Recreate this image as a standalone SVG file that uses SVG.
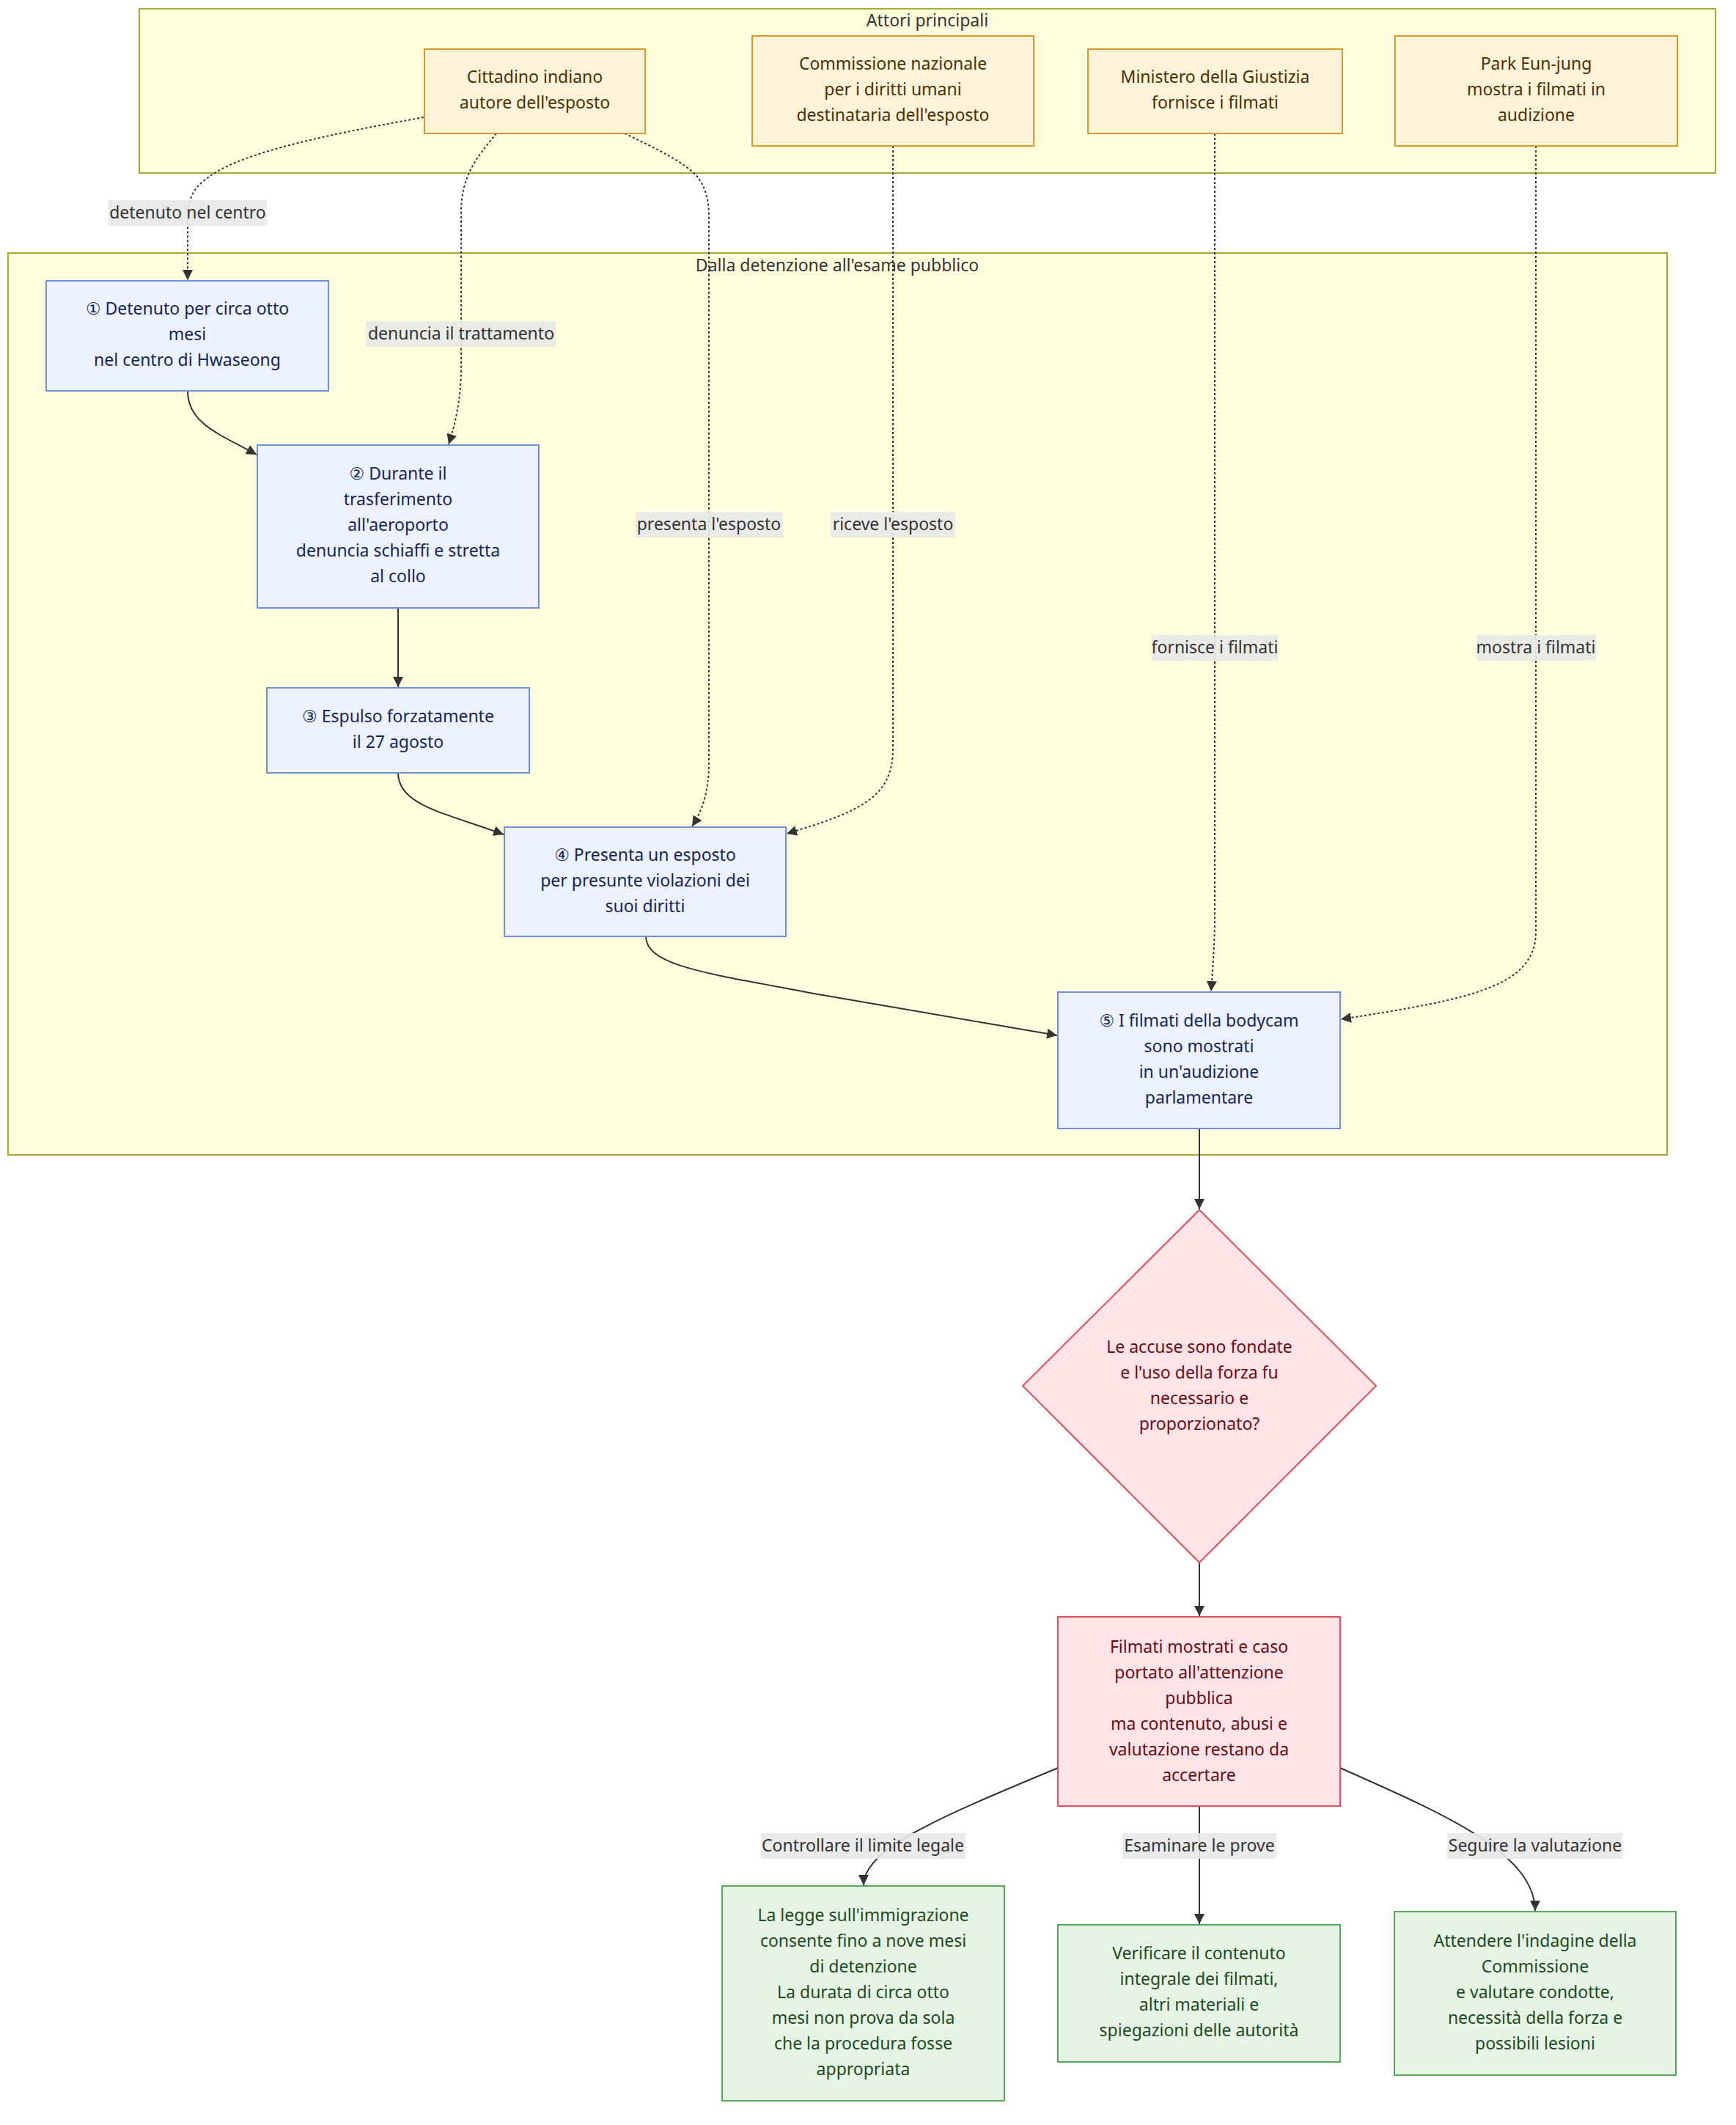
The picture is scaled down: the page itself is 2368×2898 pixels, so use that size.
<svg xmlns="http://www.w3.org/2000/svg" width="2368" height="2898" viewBox="0 0 2368 2898">
<style>
text{font-family:"Noto Sans","Open Sans","DejaVu Sans",sans-serif;font-size:23px;text-anchor:middle;dominant-baseline:central}
.cl{fill:#ffffde;stroke:#aaaa33;stroke-width:2}
.clt{fill:#333}
.act{fill:#fff3d9;stroke:#d99a2b;stroke-width:2}
.actt{fill:#4a3000}
.stp{fill:#ecf2ff;stroke:#6d8fdd;stroke-width:2}
.stpt{fill:#16245e}
.red{fill:#ffe3e6;stroke:#e0505e;stroke-width:2}
.redt{fill:#6e0a12}
.grn{fill:#e6f4e6;stroke:#5aa85a;stroke-width:2}
.grnt{fill:#1d4a1d}
.e{fill:none;stroke:#333;stroke-width:2;marker-end:url(#arr)}
.d{stroke-dasharray:3 3}
.lb{fill:#e8e8e8;opacity:0.9}
.lbt{fill:#333}
</style>
<defs>
<marker id="arr" viewBox="0 0 10 10" refX="10" refY="5" markerWidth="14" markerHeight="14" markerUnits="userSpaceOnUse" orient="auto"><path d="M0,0 L10,5 L0,10 z" fill="#333"/></marker>
</defs>
<rect width="2368" height="2898" fill="#ffffff"/>
<g id="cluster-attori">
<rect class="cl" x="190" y="12" width="2150" height="224"/>
<text class="clt" x="1265" y="27">Attori principali</text>
</g>
<g id="cluster-percorso">
<rect class="cl" x="11" y="345" width="2263" height="1230"/>
<text class="clt" x="1142" y="361">Dalla detenzione all'esame pubblico</text>
</g>
<g id="edges">
<path class="e d" d="M578,160 C420,188 320,212 280,245 Q256,262 256,295 L256,382"/>
<path class="e d" d="M677,182 C650,215 629,240 629,290 L629,500 C629,545 621,578 612,606"/>
<path class="e d" d="M852,182 C900,205 935,222 952,242 Q967,262 967,295 L967,1040 C967,1080 958,1105 944,1127"/>
<path class="e d" d="M1218,199 L1218,1020 C1218,1085 1180,1105 1073,1137"/>
<path class="e d" d="M1657,182 L1657,1240 C1657,1295 1654,1320 1652,1352"/>
<path class="e d" d="M2095,199 L2095,1270 C2095,1345 2010,1362 1829,1390"/>
<path class="e" d="M256,533 C256,578 300,592 350,620"/>
<path class="e" d="M543,829 L543,937"/>
<path class="e" d="M543,1054 C543,1098 605,1108 687,1138"/>
<path class="e" d="M881,1277 C881,1318 970,1328 1110,1355 L1442,1412"/>
<path class="e" d="M1636,1539 L1636,1649"/>
<path class="e" d="M1636,2131 L1636,2204"/>
<path class="e" d="M1443,2411 C1290,2475 1178,2520 1178,2571"/>
<path class="e" d="M1636,2463 L1636,2624"/>
<path class="e" d="M1828,2411 C1960,2470 2094,2525 2094,2606"/>
<rect class="lb" x="148" y="273" width="216" height="35"/><text class="lbt" x="256" y="289">detenuto nel centro</text>
<rect class="lb" x="499" y="438" width="259" height="35"/><text class="lbt" x="629" y="454">denuncia il trattamento</text>
<rect class="lb" x="867" y="698" width="201" height="35"/><text class="lbt" x="967" y="714">presenta l'esposto</text>
<rect class="lb" x="1133" y="698" width="170" height="35"/><text class="lbt" x="1218" y="714">riceve l'esposto</text>
<rect class="lb" x="1571" y="866" width="172" height="35"/><text class="lbt" x="1657" y="882">fornisce i filmati</text>
<rect class="lb" x="2014" y="866" width="163" height="35"/><text class="lbt" x="2095" y="882">mostra i filmati</text>
<rect class="lb" x="1038" y="2500" width="279" height="35"/><text class="lbt" x="1177" y="2516">Controllare il limite legale</text>
<rect class="lb" x="1531" y="2500" width="210" height="35"/><text class="lbt" x="1636" y="2516">Esaminare le prove</text>
<rect class="lb" x="1974" y="2500" width="239" height="35"/><text class="lbt" x="2094" y="2516">Seguire la valutazione</text>
</g>
<g id="cittadino">
<rect class="act" x="579" y="67" width="301" height="115"/>
<text class="actt" x="729.5"><tspan x="729.5" y="104">Cittadino indiano</tspan><tspan x="729.5" y="139">autore dell'esposto</tspan></text>
</g>
<g id="commissione">
<rect class="act" x="1026" y="49" width="384" height="150"/>
<text class="actt"><tspan x="1218" y="86">Commissione nazionale</tspan><tspan x="1218" y="121">per i diritti umani</tspan><tspan x="1218" y="156">destinataria dell'esposto</tspan></text>
</g>
<g id="ministero">
<rect class="act" x="1484" y="67" width="347" height="115"/>
<text class="actt"><tspan x="1657.5" y="104">Ministero della Giustizia</tspan><tspan x="1657.5" y="139">fornisce i filmati</tspan></text>
</g>
<g id="park">
<rect class="act" x="1903" y="49" width="385" height="150"/>
<text class="actt"><tspan x="2095.5" y="86">Park Eun-jung</tspan><tspan x="2095.5" y="121">mostra i filmati in</tspan><tspan x="2095.5" y="156">audizione</tspan></text>
</g>
<g id="step1">
<rect class="stp" x="63" y="383" width="385" height="150"/>
<text class="stpt"><tspan x="255.5" y="420">① Detenuto per circa otto</tspan><tspan x="255.5" y="455">mesi</tspan><tspan x="255.5" y="490">nel centro di Hwaseong</tspan></text>
</g>
<g id="step2">
<rect class="stp" x="351" y="607" width="384" height="222"/>
<text class="stpt"><tspan x="543" y="645">② Durante il</tspan><tspan x="543" y="680">trasferimento</tspan><tspan x="543" y="715">all'aeroporto</tspan><tspan x="543" y="750">denuncia schiaffi e stretta</tspan><tspan x="543" y="785">al collo</tspan></text>
</g>
<g id="step3">
<rect class="stp" x="364" y="938" width="358" height="116"/>
<text class="stpt"><tspan x="543" y="976">③ Espulso forzatamente</tspan><tspan x="543" y="1011">il 27 agosto</tspan></text>
</g>
<g id="step4">
<rect class="stp" x="688" y="1128" width="384" height="149"/>
<text class="stpt"><tspan x="880" y="1165">④ Presenta un esposto</tspan><tspan x="880" y="1200">per presunte violazioni dei</tspan><tspan x="880" y="1235">suoi diritti</tspan></text>
</g>
<g id="step5">
<rect class="stp" x="1443" y="1353" width="385" height="186"/>
<text class="stpt"><tspan x="1635.5" y="1391">⑤ I filmati della bodycam</tspan><tspan x="1635.5" y="1426">sono mostrati</tspan><tspan x="1635.5" y="1461">in un'audizione</tspan><tspan x="1635.5" y="1496">parlamentare</tspan></text>
</g>
<g id="domanda">
<polygon class="red" points="1636,1650 1877,1890 1636,2131 1395,1890"/>
<text class="redt"><tspan x="1636" y="1836">Le accuse sono fondate</tspan><tspan x="1636" y="1871">e l'uso della forza fu</tspan><tspan x="1636" y="1906">necessario e</tspan><tspan x="1636" y="1941">proporzionato?</tspan></text>
</g>
<g id="esito">
<rect class="red" x="1443" y="2205" width="385" height="258"/>
<text class="redt"><tspan x="1635.5" y="2245">Filmati mostrati e caso</tspan><tspan x="1635.5" y="2280">portato all'attenzione</tspan><tspan x="1635.5" y="2315">pubblica</tspan><tspan x="1635.5" y="2350">ma contenuto, abusi e</tspan><tspan x="1635.5" y="2385">valutazione restano da</tspan><tspan x="1635.5" y="2420">accertare</tspan></text>
</g>
<g id="limite">
<rect class="grn" x="985" y="2572" width="385" height="293"/>
<text class="grnt"><tspan x="1177.5" y="2611">La legge sull'immigrazione</tspan><tspan x="1177.5" y="2646">consente fino a nove mesi</tspan><tspan x="1177.5" y="2681">di detenzione</tspan><tspan x="1177.5" y="2716">La durata di circa otto</tspan><tspan x="1177.5" y="2751">mesi non prova da sola</tspan><tspan x="1177.5" y="2786">che la procedura fosse</tspan><tspan x="1177.5" y="2821">appropriata</tspan></text>
</g>
<g id="prove">
<rect class="grn" x="1443" y="2625" width="385" height="187"/>
<text class="grnt"><tspan x="1635.5" y="2663">Verificare il contenuto</tspan><tspan x="1635.5" y="2698">integrale dei filmati,</tspan><tspan x="1635.5" y="2733">altri materiali e</tspan><tspan x="1635.5" y="2768">spiegazioni delle autorità</tspan></text>
</g>
<g id="valutazione">
<rect class="grn" x="1902" y="2607" width="384" height="223"/>
<text class="grnt"><tspan x="2094" y="2646">Attendere l'indagine della</tspan><tspan x="2094" y="2681">Commissione</tspan><tspan x="2094" y="2716">e valutare condotte,</tspan><tspan x="2094" y="2751">necessità della forza e</tspan><tspan x="2094" y="2786">possibili lesioni</tspan></text>
</g>
</svg>
